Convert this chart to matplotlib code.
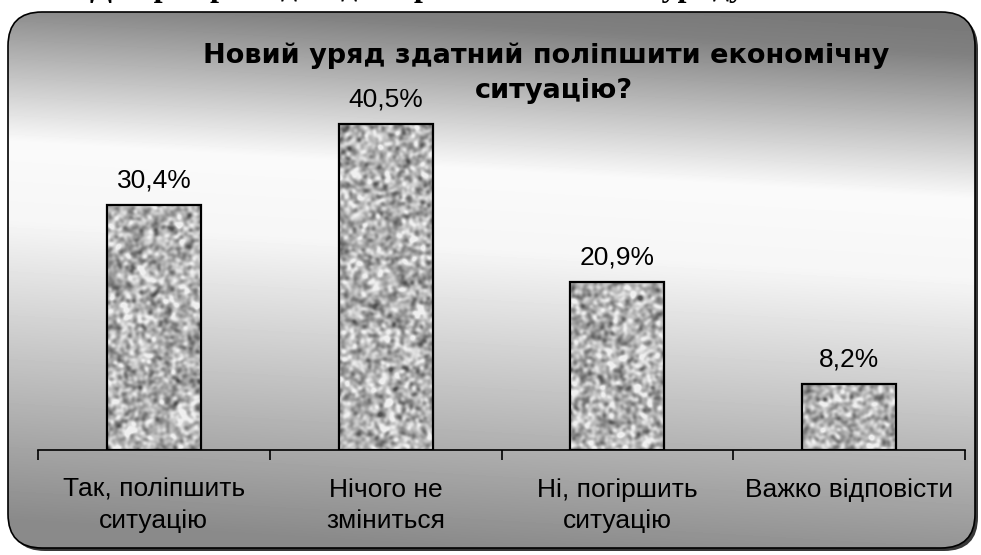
import numpy as np
import matplotlib
matplotlib.use("Agg")
import matplotlib.pyplot as plt
from matplotlib.patches import FancyBboxPatch

plt.rcParams['font.family'] = ['Liberation Sans', 'DejaVu Sans']

# data
categories = ["Так, поліпшить\nситуацію", "Нічого не\nзміниться",
              "Ні, погіршить\nситуацію", "Важко відповісти"]
values = [30.4, 40.5, 20.9, 8.2]
value_labels = ["30,4%", "40,5%", "20,9%", "8,2%"]
title_lines = ["Новий уряд здатний поліпшити економічну", "ситуацію?"]
top_text = "Довіра громадян до перспектив нового уряду"

W, H = 981, 555
fig = plt.figure(figsize=(W / 100, H / 100), dpi=100)
fig.patch.set_facecolor("white")

# background panel (pixel coords)
bg = fig.add_axes([0, 0, 1, 1])
bg.set_xlim(0, W)
bg.set_ylim(H, 0)
bg.axis("off")

x0, y0, x1, y1 = 8, 12, 975, 548
rad = 34
shadow = FancyBboxPatch((x0 + 3, y0 + 3), x1 - x0, y1 - y0,
                        boxstyle=f"round,pad=0,rounding_size={rad}",
                        fc="#383838", ec="none", zorder=1)
bg.add_patch(shadow)
panel = FancyBboxPatch((x0, y0), x1 - x0, y1 - y0,
                       boxstyle=f"round,pad=0,rounding_size={rad}",
                       fc="none", ec="black", lw=1.2, zorder=3)
bg.add_patch(panel)

yy, xx = np.mgrid[0:H, 0:W]
t = yy - 0.06 * (xx - 490)
grad = np.interp(t, [0, 25, 170, 250, 548], [122, 128, 250, 246, 138])
img = bg.imshow(grad, cmap="gray", vmin=0, vmax=255, extent=[0, W, H, 0],
                zorder=2, interpolation="bilinear")
img.set_clip_path(panel)

# header line above the panel, cut by the image edge
fig.text(90 / W, 1.0 + 4 / H, top_text, ha="left", va="baseline",
         fontsize=23, fontweight="bold", family="Liberation Serif")

# main chart
ax = fig.add_axes([38 / W, (H - 450) / H, (965 - 38) / W, (450 - 47) / H])
ax.patch.set_alpha(0)

x = np.arange(len(categories))
bars = ax.bar(x, values, width=0.405, fc="none", ec="black", lw=1.6, zorder=3)

# granite texture
rng = np.random.default_rng(7)
th, tw = 410, 930
noise = rng.standard_normal((th, tw))
fy = np.fft.fftfreq(th)[:, None]
fx = np.fft.fftfreq(tw)[None, :]
sig = 1.8
kern = np.exp(-2 * (np.pi * sig) ** 2 * (fx ** 2 + fy ** 2))
smooth = np.real(np.fft.ifft2(np.fft.fft2(noise) * kern))
smooth = (smooth - smooth.mean()) / smooth.std()
tex = np.clip(178 + 32 * smooth, 80, 240)

for b in bars:
    im = ax.imshow(tex, cmap="gray", vmin=0, vmax=255,
                   extent=[-0.5, 3.5, 0, 50], aspect="auto", zorder=2,
                   interpolation="bilinear")
    im.set_clip_path(b)

for xi, v, lab in zip(x, values, value_labels):
    ax.annotate(lab, (xi, v), xytext=(0, 9), textcoords="offset points",
                ha="center", va="bottom", fontsize=19)

ax.set_xlim(-0.5, 3.5)
ax.set_ylim(0, 50)
for s in ["top", "right", "left"]:
    ax.spines[s].set_visible(False)
ax.spines["bottom"].set_linewidth(1.2)
ax.set_yticks([])
ax.set_xticks(x)
ax.set_xticklabels(categories, fontsize=19, linespacing=1.4)
ax.tick_params(axis="x", which="major", length=0, pad=20)
ax.set_xticks(np.arange(-0.5, 4.0, 1.0), minor=True)
ax.tick_params(axis="x", which="minor", length=7, width=1.2, direction="out")

# title, two lines
for line, (cx, base) in zip(title_lines, [(546, 63), (554, 98)]):
    fig.text(cx / W, (H - base) / H, line, ha="center", va="baseline",
             fontsize=19.5, fontweight="bold", family=["DejaVu Sans"])

fig.savefig("out.png", dpi=100)
